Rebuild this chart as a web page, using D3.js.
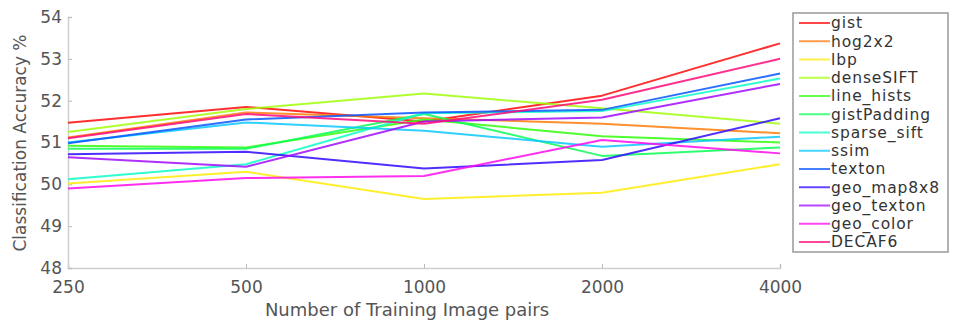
<!DOCTYPE html>
<html><head><meta charset="utf-8">
<script src="https://cdn.jsdelivr.net/npm/d3@7"></script>
<style>
body{margin:0;background:#fff;}
svg{display:block;}
text{font-family:"DejaVu Sans",sans-serif;}
</style></head>
<body><svg id="c" width="954" height="324"></svg>
<script>
const trainingPairs = [250, 500, 1000, 2000, 4000];
const seriesNames = ["gist","hog2x2","lbp","denseSIFT","line_hists","gistPadding","sparse_sift","ssim","texton","geo_map8x8","geo_texton","geo_color","DECAF6"];
const gist        = [51.47, 51.85, 51.50, 52.12, 53.37];
const hog2x2      = [51.12, 51.72, 51.58, 51.45, 51.22];
const lbp         = [50.02, 50.30, 49.65, 49.80, 50.48];
const denseSIFT   = [51.25, 51.80, 52.17, 51.82, 51.45];
const line_hists  = [50.92, 50.88, 51.55, 51.15, 51.00];
const gistPadding = [50.85, 50.85, 51.68, 50.68, 50.88];
const sparse_sift = [50.12, 50.48, 51.70, 51.75, 52.53];
const ssim        = [51.00, 51.48, 51.28, 50.90, 51.14];
const texton      = [50.98, 51.55, 51.72, 51.78, 52.65];
const geo_map8x8  = [50.72, 50.78, 50.38, 50.58, 51.58];
const geo_texton  = [50.65, 50.42, 51.50, 51.60, 52.40];
const geo_color   = [49.90, 50.15, 50.20, 51.06, 50.74];
const DECAF6      = [51.10, 51.68, 51.45, 52.02, 53.00];
const seriesValues = [gist,hog2x2,lbp,denseSIFT,line_hists,gistPadding,sparse_sift,ssim,texton,geo_map8x8,geo_texton,geo_color,DECAF6];
const yTicks = [48,49,50,51,52,53,54];
const xLabel = "Number of Training Image pairs";
const yLabel = "Classification Accuracy %";

const svg = d3.select("#c");
const x = d3.scaleLog().domain([250,4000]).range([68,780]);
const y = d3.scaleLinear().domain([48,54]).range([268,17]);
const color = i => d3.hsl(i*360/13, 1, 0.52).toString();

// axes
const gx = svg.append("g").attr("transform","translate(0,268)")
  .call(d3.axisBottom(x).tickValues(trainingPairs).tickFormat(d3.format("d")).tickSize(-4).tickPadding(10));
const gy = svg.append("g").attr("transform","translate(68,0)")
  .call(d3.axisLeft(y).tickValues(yTicks).tickFormat(d3.format("d")).tickSize(-4).tickPadding(6));
[gx,gy].forEach(g=>{
  g.select(".domain").attr("stroke","#cfcfcf").attr("stroke-width",1.5);
  g.selectAll(".tick line").attr("stroke","#bbb");
  g.selectAll(".tick text").attr("fill","#555").style("font-size","17px").style("font-family","DejaVu Sans");
});
gx.selectAll(".tick text").attr("dy","0.9em");

svg.append("text").attr("x",407).attr("y",316).attr("text-anchor","middle")
  .attr("fill","#555").style("font-size","18px").text(xLabel);
svg.append("text").attr("transform","translate(26,143) rotate(-90)").attr("text-anchor","middle")
  .attr("fill","#555").style("font-size","17px").text(yLabel);

// lines
const line = d3.line().x((d,i)=>x(trainingPairs[i])).y(d=>y(d));
svg.append("g").selectAll("path").data(seriesValues).join("path")
  .attr("d", line).attr("fill","none")
  .attr("stroke",(d,i)=>color(i)).attr("stroke-width",2).attr("stroke-opacity",0.85)
  .attr("stroke-linejoin","round");

// legend
const lg = svg.append("g");
lg.append("rect").attr("x",793).attr("y",13).attr("width",155).attr("height",239)
  .attr("fill","#fff").attr("stroke","#999").attr("stroke-width",1.5);
const items = lg.selectAll("g.item").data(seriesNames).join("g").attr("class","item")
  .attr("transform",(d,i)=>`translate(0,${23 + i*18.25})`);
items.append("line").attr("x1",799).attr("x2",830).attr("y1",0).attr("y2",0)
  .attr("stroke",(d,i)=>color(i)).attr("stroke-width",2).attr("stroke-opacity",0.75);
items.append("text").attr("x",831).attr("y",0).attr("dy","0.35em")
  .attr("fill","#333").style("font-size","15.5px").style("letter-spacing","0.9px").text(d=>d);
</script></body></html>
